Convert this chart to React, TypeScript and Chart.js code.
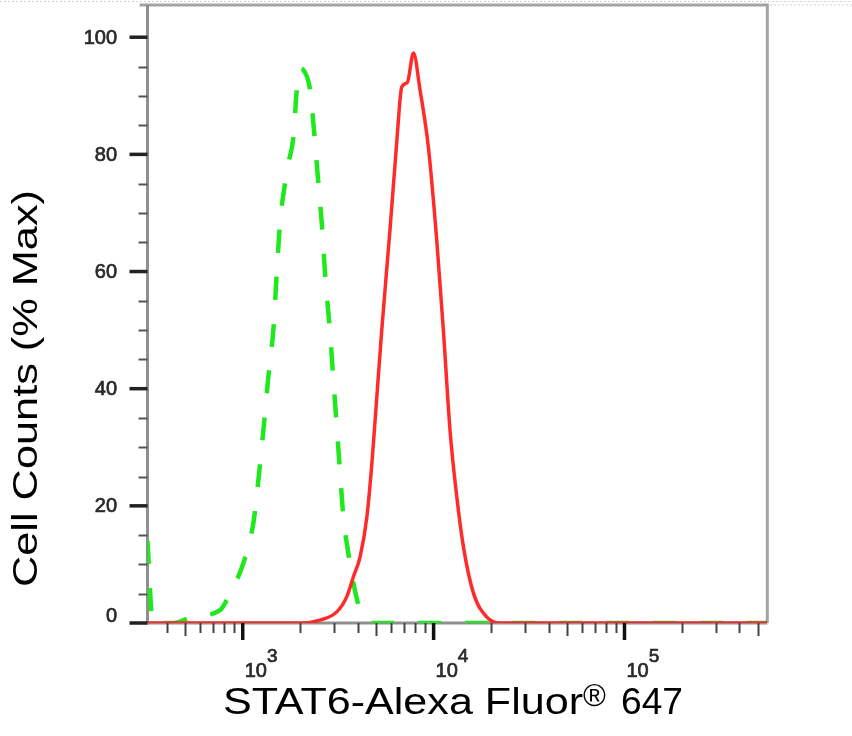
import React, { useEffect, useRef } from "react";
import { Chart, registerables } from "chart.js";

Chart.register(...registerables);

// ---- data ----
const stainedX = [317, 2000, 2540, 3110, 3510, 3800, 4120, 4470, 4750, 5040, 5350, 5920, 6420, 6810, 7290, 7840, 8490, 9390, 10400, 11250, 12190, 13230, 14330, 16170, 19010, 22330, 560000];
const stainedY = [0, 0, 0.5, 1.9, 4.5, 7.9, 11.3, 18.1, 27.3, 38.6, 50.0, 67.5, 82.4, 91.5, 92.3, 97.3, 91.0, 81.2, 65.1, 50.0, 32.9, 21.5, 13.0, 5.1, 1.0, 0, 0];

const controlX = [317, 338, 433, 551, 760, 858, 1007, 1137, 1208, 1283, 1362, 1446, 1507, 1568, 1666, 1734, 1842, 1919, 1996, 2078, 2254, 2345, 2491, 2594, 2699, 2868, 2985, 3111, 3236, 3367, 3575, 3800, 4120, 4467, 4760, 560000];
const controlY = [14, 0, 0, 1.1, 2.2, 5.1, 10.2, 17.1, 24.4, 32.9, 42.0, 50.0, 59.7, 68.3, 75.1, 78.5, 82.9, 91.0, 94.7, 94.4, 91.0, 85.3, 75.1, 68.3, 59.7, 49.5, 41.5, 33.4, 25.6, 18.1, 11.9, 6.8, 2.2, 0.5, 0, 0];

const xMajorTicks = [1000, 10000, 100000];
const xMajorExponents = ["3", "4", "5"];
const xMinorTicks = [400, 500, 600, 700, 800, 900, 2000, 3000, 4000, 5000, 6000, 7000, 8000, 9000, 20000, 30000, 40000, 50000, 60000, 70000, 80000, 90000, 200000, 300000, 400000, 500000];
const yMajorTicks = [0, 20, 40, 60, 80, 100];
const yMinorTicks = [5, 10, 15, 25, 30, 35, 45, 50, 55, 65, 70, 75, 85, 90, 95];

const xTitleMain = "STAT6-Alexa Fluor";
const xTitleMark = "®";
const xTitleTail = "647";
const yTitle = "Cell Counts (% Max)";

const FONT = '"Liberation Sans", Arial, Helvetica, sans-serif';

function stretchText(ctx: CanvasRenderingContext2D, text: string, x: number, y: number, width: number) {
  const w = ctx.measureText(text).width;
  ctx.save();
  ctx.translate(x, y);
  ctx.scale(width / w, 1);
  ctx.fillText(text, 0, 0);
  ctx.restore();
}

function boldText(ctx: CanvasRenderingContext2D, text: string, x: number, y: number) {
  ctx.fillText(text, x, y);
  ctx.strokeText(text, x, y);
}

const framePlugin = {
  id: "frame",
  beforeDatasetsDraw(chart: any) {
    const { ctx, chartArea: a } = chart;
    ctx.save();
    ctx.setLineDash([2, 2]);
    ctx.strokeStyle = "#cfcfcf";
    ctx.lineWidth = 1;
    ctx.beginPath();
    ctx.moveTo(0, 1.5);
    ctx.lineTo(852, 1.5);
    ctx.moveTo(a.right + 3, a.top);
    ctx.lineTo(852, a.top);
    ctx.stroke();
    ctx.setLineDash([]);
    ctx.strokeStyle = "#a3a3a3";
    ctx.lineWidth = 3;
    ctx.beginPath();
    ctx.moveTo(a.left - 8, a.top);
    ctx.lineTo(a.right, a.top);
    ctx.lineTo(a.right, a.bottom);
    ctx.stroke();
    ctx.strokeStyle = "#8f8f8f";
    ctx.lineWidth = 3;
    ctx.beginPath();
    ctx.moveTo(a.left, a.top);
    ctx.lineTo(a.left, a.bottom);
    ctx.lineTo(a.right, a.bottom);
    ctx.stroke();
    ctx.restore();
  },
  afterDraw(chart: any) {
    const { ctx, chartArea: a, scales } = chart;
    const xs = scales.x;
    const ys = scales.y;
    ctx.save();
    // y ticks
    ctx.strokeStyle = "#555";
    ctx.lineWidth = 2;
    for (const v of yMinorTicks) {
      const y = Math.round(ys.getPixelForValue(v)) + 0.5;
      ctx.beginPath();
      ctx.moveTo(a.left - 9, y);
      ctx.lineTo(a.left, y);
      ctx.stroke();
    }
    ctx.strokeStyle = "#222";
    ctx.lineWidth = 3.5;
    for (const v of yMajorTicks) {
      const y = ys.getPixelForValue(v);
      ctx.beginPath();
      ctx.moveTo(a.left - 18, y);
      ctx.lineTo(a.left, y);
      ctx.stroke();
    }
    ctx.fillStyle = "#2a2a2a";
    ctx.strokeStyle = "#2a2a2a";
    ctx.lineWidth = 0.7;
    ctx.font = `20px ${FONT}`;
    ctx.textAlign = "right";
    ctx.textBaseline = "middle";
    for (const v of yMajorTicks) {
      const y = ys.getPixelForValue(v);
      boldText(ctx, String(v), 117, v === 0 ? y - 7 : y + 1);
    }
    // x ticks
    ctx.strokeStyle = "#444";
    ctx.lineWidth = 2;
    for (const v of xMinorTicks) {
      const x = Math.round(xs.getPixelForValue(v)) + 0.5;
      const len = (v / Math.pow(10, Math.floor(Math.log10(v) + 1e-9))) === 5 ? 13 : 10;
      ctx.beginPath();
      ctx.moveTo(x, a.bottom);
      ctx.lineTo(x, a.bottom + len);
      ctx.stroke();
    }
    ctx.strokeStyle = "#111";
    ctx.lineWidth = 3.5;
    xMajorTicks.forEach((v) => {
      const x = xs.getPixelForValue(v);
      ctx.beginPath();
      ctx.moveTo(x, a.bottom);
      ctx.lineTo(x, a.bottom + 17);
      ctx.stroke();
    });
    ctx.fillStyle = "#2a2a2a";
    ctx.strokeStyle = "#2a2a2a";
    ctx.lineWidth = 0.7;
    ctx.textAlign = "left";
    ctx.textBaseline = "alphabetic";
    xMajorTicks.forEach((v, i) => {
      const x = xs.getPixelForValue(v) + 2;
      ctx.font = `20px ${FONT}`;
      boldText(ctx, "10", x, 677);
      const w = ctx.measureText("10").width;
      ctx.font = `19px ${FONT}`;
      boldText(ctx, xMajorExponents[i], x + w, 662);
    });
    // x title
    ctx.fillStyle = "#000";
    ctx.font = `36px ${FONT}`;
    stretchText(ctx, xTitleMain, 223, 714, 360);
    ctx.font = `31px ${FONT}`;
    ctx.fillText(xTitleMark, 583, 706);
    ctx.font = `36px ${FONT}`;
    stretchText(ctx, xTitleTail, 621, 714, 62);
    // y title
    ctx.save();
    ctx.translate(37, 587);
    ctx.rotate(-Math.PI / 2);
    ctx.font = `35px ${FONT}`;
    stretchText(ctx, yTitle, 0, 0, 397);
    ctx.restore();
    ctx.restore();
  },
};

export default function App() {
  const ref = useRef<HTMLCanvasElement>(null);
  useEffect(() => {
    if (!ref.current) return;
    const chart = new Chart(ref.current, {
      type: "line",
      data: {
        datasets: [
          {
            label: "STAT6",
            data: stainedX.map((x, i) => ({ x, y: stainedY[i] })),
            borderColor: "#ff2b2b",
            borderWidth: 3.5,
            cubicInterpolationMode: "monotone",
            pointRadius: 0,
            fill: false,
            order: 0,
          },
          {
            label: "Control",
            data: controlX.map((x, i) => ({ x, y: controlY[i] })),
            borderColor: "#1fe81f",
            borderWidth: 4.5,
            borderDash: [23, 24],
            cubicInterpolationMode: "monotone",
            pointRadius: 0,
            fill: false,
            order: 1,
          },
        ],
      },
      options: {
        animation: false,
        responsive: false,
        devicePixelRatio: 1,
        layout: { padding: { left: 147.5, right: 84.7, top: 5, bottom: 113 } },
        plugins: { legend: { display: false }, tooltip: { enabled: false } },
        scales: {
          x: { type: "logarithmic", min: 317, max: 560000, display: false },
          y: { type: "linear", min: 0, max: 105.5, display: false },
        },
      },
      plugins: [framePlugin],
    } as any);
    return () => chart.destroy();
  }, []);
  return (
    <div style={{ position: "fixed", left: 0, top: 0, width: 852, height: 736, background: "#fff" }}>
      <canvas ref={ref} width={852} height={736} style={{ display: "block" }} />
    </div>
  );
}
